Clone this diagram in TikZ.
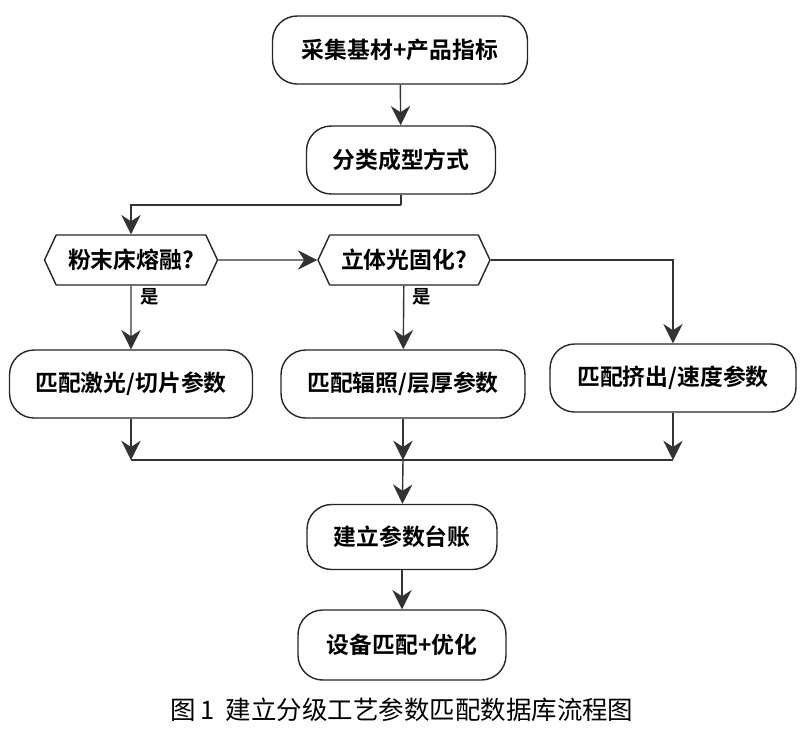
\documentclass[tikz,border=0pt]{standalone}
\usepackage{fontspec}
\newfontfamily\cjk{Noto Sans CJK SC}
\newfontfamily\cjkb{Noto Sans CJK SC Bold}
\usetikzlibrary{arrows.meta,shapes.symbols}
\tikzset{
	box/.style={draw=black!85,thick,rounded corners=14pt,fill=white,
		minimum height=1.36cm,font=\cjkb\fontsize{13}{15}\selectfont},
	decide/.style={draw=black!85,thick,signal,signal to=west and east,
		signal pointer angle=130,fill=white,minimum height=1cm,inner xsep=2pt,
		font=\cjkb\fontsize{13}{15}\selectfont},
	flow/.style={draw=black!80,thick,-{Stealth[length=11pt,width=11pt]}},
	link/.style={draw=black!80,thick},
	yes/.style={font=\cjkb\fontsize{10.5}{12}\selectfont}
}
\begin{document}
\begin{tikzpicture}[x=0.02cm,y=-0.02cm]
	\useasboundingbox (0,0) rectangle (804,735);
	
	\node[box,minimum width=5.1cm] (collect) at (400,50) {采集基材+产品指标};
	\node[box,minimum width=3.78cm] (classify) at (401,160) {分类成型方式};
	\node[decide,minimum width=3.46cm] (powder) at (131,260) {粉末床熔融?};
	\node[decide,minimum width=3.44cm] (resin) at (404,260) {立体光固化?};
	\node[box,minimum width=4.86cm] (laser) at (131,384) {匹配激光/切片参数};
	\node[box,minimum width=4.88cm] (light) at (403,384) {匹配辐照/层厚参数};
	\node[box,minimum width=4.92cm] (extrude) at (673,378) {匹配挤出/速度参数};
	\node[box,minimum width=3.8cm,minimum height=1.3cm] (ledger) at (402,537) {建立参数台账};
	\node[box,minimum width=4.16cm,minimum height=1.4cm] (device) at (402,645) {设备匹配+优化};
	
	\node[yes] (yes1) at (150,297) {是};
	\node[yes] (yes2) at (422,297) {是};
	\node[font=\cjk\fontsize{14.5}{16}\selectfont] (caption) at (402,710) {图\,1\ \ 建立分级工艺参数匹配数据库流程图};
	
	\coordinate (split) at (401,205);
	\coordinate (turn) at (673,260);
	\coordinate (join1) at (131,460);
	\coordinate (join2) at (403,460);
	\coordinate (join3) at (673,460);
	
	\draw[flow] (collect) -- (classify);
	\draw[link] (classify) -- (split);
	\draw[flow] (split) -| (powder.north);
	\draw[flow] (powder) -- (resin);
	\draw[flow] (powder) -- (laser);
	\draw[flow] (resin) -- (light);
	\draw[flow] (resin.east) -- (turn) -- (extrude);
	\draw[flow] (laser) -- (join1);
	\draw[flow] (light) -- (join2);
	\draw[flow] (extrude) -- (join3);
	\draw[link] (join1) -- (join3);
	\draw[flow] (join2) -- (ledger);
	\draw[flow] (ledger) -- (device);
\end{tikzpicture}
\end{document}
